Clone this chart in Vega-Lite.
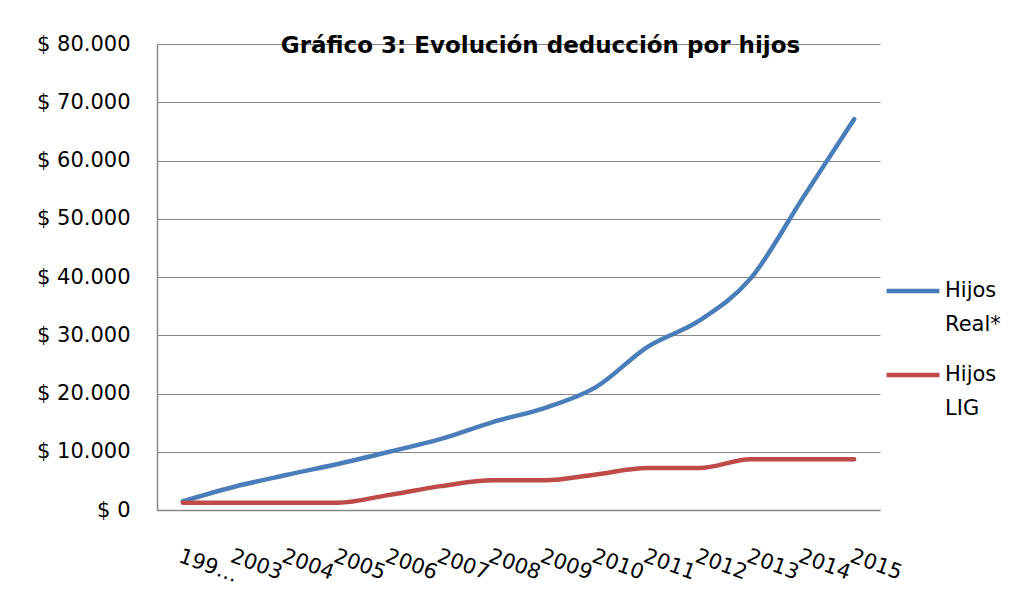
{
  "$schema": "https://vega.github.io/schema/vega-lite/v6.json",
  "width": 723,
  "height": 466,
  "autosize": {"type": "none"},
  "padding": {"left": 157, "top": 44, "right": 133, "bottom": 102},
  "background": "white",
  "title": {
    "text": "Gráfico 3: Evolución deducción por hijos",
    "font": "DejaVu Sans",
    "fontSize": 23,
    "fontWeight": "bold",
    "color": "#000000",
    "anchor": "middle",
    "dx": 22,
    "offset": -25
  },
  "data": {
    "values": [
      {"anio": "199…", "serie": "Hijos Real*", "valor": 1500},
      {"anio": "2003", "serie": "Hijos Real*", "valor": 4000},
      {"anio": "2004", "serie": "Hijos Real*", "valor": 6000},
      {"anio": "2005", "serie": "Hijos Real*", "valor": 7900},
      {"anio": "2006", "serie": "Hijos Real*", "valor": 10000},
      {"anio": "2007", "serie": "Hijos Real*", "valor": 12200},
      {"anio": "2008", "serie": "Hijos Real*", "valor": 15100},
      {"anio": "2009", "serie": "Hijos Real*", "valor": 17500},
      {"anio": "2010", "serie": "Hijos Real*", "valor": 21100},
      {"anio": "2011", "serie": "Hijos Real*", "valor": 28000},
      {"anio": "2012", "serie": "Hijos Real*", "valor": 32500},
      {"anio": "2013", "serie": "Hijos Real*", "valor": 39800},
      {"anio": "2014", "serie": "Hijos Real*", "valor": 53500},
      {"anio": "2015", "serie": "Hijos Real*", "valor": 67100},
      {"anio": "199…", "serie": "Hijos LIG", "valor": 1250},
      {"anio": "2003", "serie": "Hijos LIG", "valor": 1250},
      {"anio": "2004", "serie": "Hijos LIG", "valor": 1250},
      {"anio": "2005", "serie": "Hijos LIG", "valor": 1250},
      {"anio": "2006", "serie": "Hijos LIG", "valor": 2600},
      {"anio": "2007", "serie": "Hijos LIG", "valor": 4100},
      {"anio": "2008", "serie": "Hijos LIG", "valor": 5100},
      {"anio": "2009", "serie": "Hijos LIG", "valor": 5100},
      {"anio": "2010", "serie": "Hijos LIG", "valor": 6100},
      {"anio": "2011", "serie": "Hijos LIG", "valor": 7200},
      {"anio": "2012", "serie": "Hijos LIG", "valor": 7200},
      {"anio": "2013", "serie": "Hijos LIG", "valor": 8700},
      {"anio": "2014", "serie": "Hijos LIG", "valor": 8700},
      {"anio": "2015", "serie": "Hijos LIG", "valor": 8700}
    ]
  },
  "mark": {"type": "line", "interpolate": "monotone", "strokeWidth": 4.5, "strokeCap": "round"},
  "encoding": {
    "x": {
      "field": "anio",
      "type": "ordinal",
      "sort": null,
      "scale": {"type": "point", "padding": 0.5},
      "axis": {
        "title": null,
        "grid": false,
        "ticks": false,
        "domain": true,
        "domainColor": "#878787",
        "domainWidth": 1.5,
        "labelAngle": 20,
        "labelAlign": "left",
        "labelBaseline": "top",
        "labelPadding": 35,
        "labelFont": "DejaVu Sans",
        "labelFontSize": 21,
        "labelColor": "#000000",
        "labelOverlap": false
      }
    },
    "y": {
      "field": "valor",
      "type": "quantitative",
      "scale": {"domain": [0, 80000]},
      "axis": {
        "title": null,
        "values": [0, 10000, 20000, 30000, 40000, 50000, 60000, 70000, 80000],
        "grid": true,
        "gridColor": "#878787",
        "gridWidth": 1.2,
        "ticks": false,
        "domain": true,
        "domainColor": "#878787",
        "domainWidth": 1.5,
        "labelPadding": 27,
        "labelFont": "DejaVu Sans",
        "labelFontSize": 21,
        "labelColor": "#000000",
        "labelExpr": "datum.value == 0 ? '$ 0' : '$ ' + replace(format(datum.value, ','), ',', '.')"
      }
    },
    "color": {
      "field": "serie",
      "type": "nominal",
      "sort": ["Hijos Real*", "Hijos LIG"],
      "scale": {"domain": ["Hijos Real*", "Hijos LIG"], "range": ["#4A7EBB", "#BE4B48"]},
      "legend": {
        "title": null,
        "orient": "none",
        "legendX": 727,
        "legendY": 218,
        "symbolType": "stroke",
        "symbolSize": 2800,
        "symbolStrokeWidth": 4.5,
        "labelOffset": 3,
        "labelFont": "DejaVu Sans",
        "labelFontSize": 21,
        "labelColor": "#000000",
        "labelExpr": "split(datum.label, ' ')",
        "labelBaseline": "middle",
        "rowPadding": 11,
        "encode": {"labels": {"update": {"lineHeight": {"value": 34}}}}
      }
    }
  },
  "config": {"view": {"stroke": null}}
}
